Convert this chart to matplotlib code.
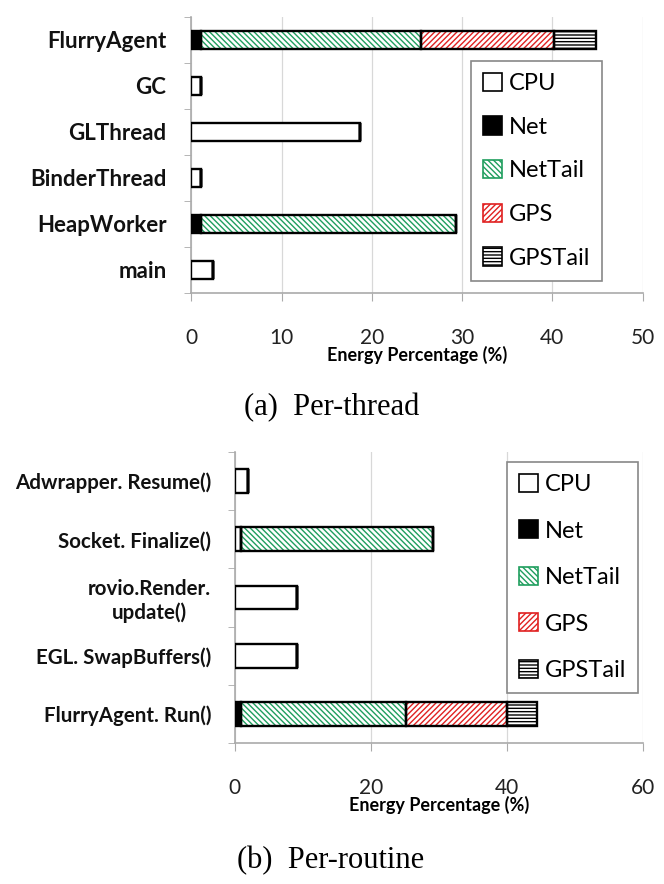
import matplotlib
matplotlib.use("Agg")
import matplotlib.pyplot as plt
from matplotlib.patches import Patch

plt.rcParams['font.family'] = ['Lato', 'DejaVu Sans']
plt.rcParams['hatch.linewidth'] = 1.0

# per-thread energy (%)
threads = ['FlurryAgent', 'GC', 'GLThread', 'BinderThread', 'HeapWorker', 'main']
t_cpu = [0, 1.0, 18.7, 1.0, 0, 2.4]
t_net = [1.0, 0, 0, 0, 1.0, 0]
t_nettail = [24.4, 0, 0, 0, 28.3, 0]
t_gps = [14.8, 0, 0, 0, 0, 0]
t_gpstail = [4.6, 0, 0, 0, 0, 0]

# per-routine energy (%)
routines = ['Adwrapper. Resume()', 'Socket. Finalize()', 'rovio.Render.\nupdate()',
            'EGL. SwapBuffers()', 'FlurryAgent. Run()']
r_cpu = [2.0, 0.9, 9.2, 9.2, 0]
r_net = [0, 0, 0, 0, 0.9]
r_nettail = [0, 28.3, 0, 0, 24.3]
r_gps = [0, 0, 0, 0, 14.8]
r_gpstail = [0, 0, 0, 0, 4.5]

labels = ['CPU', 'Net', 'NetTail', 'GPS', 'GPSTail']
# (face, hatch, hatch colour)
styles = [('white', None, 'black'),
          ('black', None, 'black'),
          ('white', '\\\\\\\\\\\\', '#1f9e5e'),
          ('white', '//////', '#e02020'),
          ('white', '-----', 'black')]


def draw(ax, names, series, xmax, step, bar_h):
    y = list(range(len(names)))[::-1]
    left = [0] * len(names)
    for vals, (fc, hatch, hc) in zip(series, styles):
        ax.barh(y, vals, left=left, height=bar_h, color=fc, hatch=hatch,
                edgecolor=hc, linewidth=0, zorder=2)
        ax.barh(y, vals, left=left, height=bar_h, fill=False,
                edgecolor='black', linewidth=1.7, zorder=3)
        left = [a + b for a, b in zip(left, vals)]
    ax.set_xlim(0, xmax)
    ax.set_ylim(-0.5, len(names) - 0.5)
    ax.set_xticks(range(0, xmax + 1, step))
    ax.set_yticks(y)
    ax.set_yticklabels(names, fontweight='bold', multialignment='center')
    ax.set_yticks([i - 0.5 for i in range(len(names) + 1)], minor=True)
    ax.tick_params(axis='y', which='major', length=0, colors='#111111')
    ax.tick_params(axis='y', which='minor', length=5, color='#aaaaaa', direction='out')
    ax.tick_params(axis='x', length=6, color='#aaaaaa', direction='out', pad=19,
                   labelsize=15, labelcolor='#222222')
    ax.grid(axis='x', color='#d8d8d8', linewidth=0.9, zorder=0)
    ax.set_axisbelow(True)
    for s in ['top', 'right']:
        ax.spines[s].set_visible(False)
    for s in ['left', 'bottom']:
        ax.spines[s].set_color('#aaaaaa')
        ax.spines[s].set_linewidth(1.2)
    ax.set_xlabel('Energy Percentage (%)', fontweight='bold', fontsize=13, labelpad=-1)


def legend(fig, x, y, spacing):
    handles = [Patch(facecolor=fc, hatch=h, edgecolor='black' if h is None else hc,
                     linewidth=1.2) for fc, h, hc in styles]
    lg = fig.legend(handles, labels, loc='upper left', bbox_to_anchor=(x / 664, 1 - y / 884),
                    bbox_transform=fig.transFigure, fontsize=17, handlelength=0.8,
                    handleheight=0.8, handletextpad=0.3, labelspacing=spacing,
                    borderpad=0.5, borderaxespad=0, fancybox=False, framealpha=1)
    lg.get_frame().set_edgecolor('#888888')
    lg.get_frame().set_linewidth(1.2)


fig = plt.figure(figsize=(6.64, 8.84), dpi=100)

ax1 = fig.add_axes([191.5 / 664, 1 - 293 / 884, 451 / 664, 276 / 884])
draw(ax1, threads, [t_cpu, t_net, t_nettail, t_gps, t_gpstail], 50, 10, 0.4)
ax1.tick_params(axis='y', labelsize=16, pad=18)
legend(fig, 471, 61, 0.95)

ax2 = fig.add_axes([234.8 / 664, 1 - 743 / 884, 408 / 664, 291 / 884])
draw(ax2, routines, [r_cpu, r_net, r_nettail, r_gps, r_gpstail], 60, 20, 0.41)
ax2.tick_params(axis='y', labelsize=14.8, pad=17)
legend(fig, 507, 462, 1.07)

fig.text(332 / 664, 1 - 408 / 884, '(a)  Per-thread', ha='center', va='center',
         fontsize=22, family='Liberation Serif')
fig.text(331 / 664, 1 - 861 / 884, '(b)  Per-routine', ha='center', va='center',
         fontsize=22, family='Liberation Serif')

fig.savefig('out.png', dpi=100)
